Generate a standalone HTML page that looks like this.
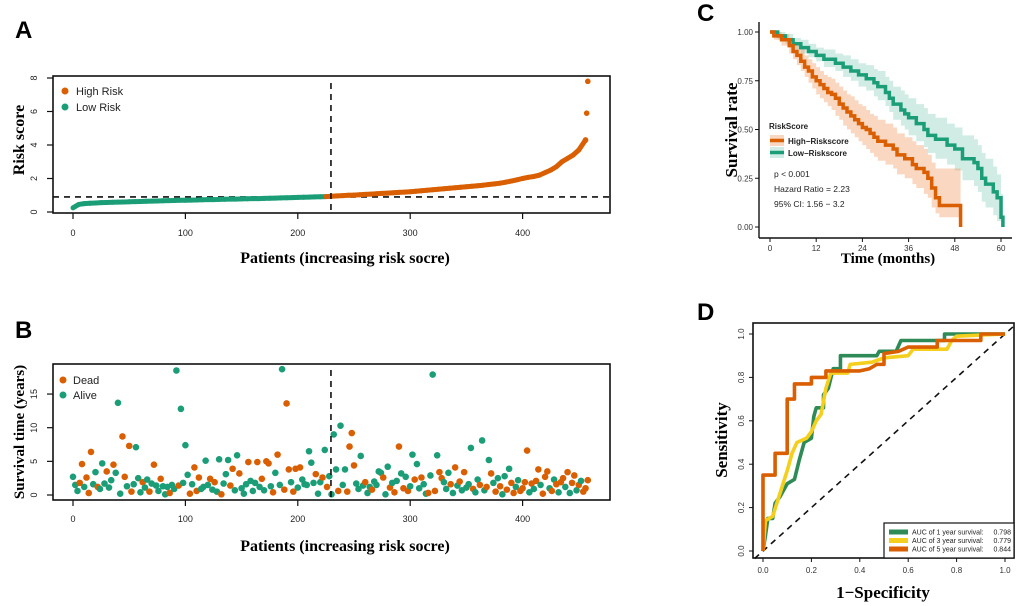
<!DOCTYPE html>
<html><head><meta charset="utf-8">
<style>
html,body{margin:0;padding:0;background:#fff;}
svg{display:block;}
text{font-family:"Liberation Sans",sans-serif;}
.ser{font-family:"Liberation Serif",serif;font-weight:bold;}
.tk{font-size:9px;fill:#222;}
</style></head>
<body>
<svg id="fig" width="1020" height="606" viewBox="0 0 1020 606" xmlns="http://www.w3.org/2000/svg">
<rect x="0" y="0" width="1020" height="606" fill="#fff"/>
<text x="15" y="38" font-size="24" font-weight="bold">A</text>
<text x="15" y="338" font-size="24" font-weight="bold">B</text>
<text x="697" y="21" font-size="24" font-weight="bold">C</text>
<text x="697" y="320" font-size="24" font-weight="bold">D</text>

<g id="pa"></g>
<g id="pb"></g>
<g id="pc"></g>
<g id="pd"></g>

<text class="ser" x="24" y="140" font-size="16" text-anchor="middle" transform="rotate(-90 24 140)">Risk score</text>
<text class="ser" x="345" y="263" font-size="16" text-anchor="middle">Patients (increasing risk socre)</text>
<text class="ser" x="24" y="432" font-size="15" text-anchor="middle" transform="rotate(-90 24 432)">Survival time (years)</text>
<text class="ser" x="345" y="551" font-size="16" text-anchor="middle">Patients (increasing risk socre)</text>
<text class="ser" x="737" y="130" font-size="17" text-anchor="middle" transform="rotate(-90 737 130)">Survival rate</text>
<text class="ser" x="888" y="263" font-size="15" text-anchor="middle">Time (months)</text>
<text class="ser" x="727" y="440" font-size="17" text-anchor="middle" transform="rotate(-90 727 440)">Sensitivity</text>
<text class="ser" x="883" y="598" font-size="17" text-anchor="middle">1−Specificity</text>
</svg>
<script>
const NS="http://www.w3.org/2000/svg";
const ORANGE="#D95F02", GREEN="#1B9E77";
// ---- Panel A data ----
const riskStep=5;
const riskScore=[0.25,0.45,0.5,0.52,0.54,0.56,0.57,0.58,0.59,0.6,0.61,0.62,0.63,0.64,0.65,0.66,0.67,0.68,0.69,0.70,0.70,0.71,0.72,0.73,0.74,0.74,0.75,0.76,0.77,0.77,0.78,0.79,0.80,0.80,0.81,0.82,0.83,0.84,0.85,0.86,0.87,0.88,0.89,0.90,0.91,0.92,0.94,0.96,0.98,1.0,1.01,1.03,1.05,1.07,1.09,1.11,1.13,1.15,1.17,1.19,1.21,1.24,1.27,1.30,1.33,1.36,1.39,1.42,1.45,1.48,1.51,1.54,1.57,1.60,1.64,1.68,1.72,1.78,1.85,1.92,2.0,2.07,2.12,2.2,2.35,2.5,2.7,3.0,3.2,3.4,3.7,4.2];
const riskTailIdx=[456,457,458];
const riskTailVal=[4.3,5.9,7.8];
const riskCutIdx=229.5, riskCutVal=0.9;
const riskXTicks=[0,100,200,300,400];
const riskYTicks=[0,2,4,6,8];
// ---- Panel B data ----
const bStep=2;
const bTime=[2.7,1.5,0.6,1.8,4.6,1.2,2.6,0.3,6.4,1.6,
3.4,1.2,0.9,4.7,1.7,3.5,1.1,2.2,4.5,3.3,
13.7,0.2,8.7,2.7,1.3,7.3,0.5,1.6,7.1,2.5,
0.4,1.9,1.1,2.3,0.5,1.7,4.5,1.4,0.6,2.4,
1.3,0.1,1.2,0.3,1.5,0.9,18.5,1.4,12.8,1.8,
7.4,3.0,0.2,1.6,4.1,0.6,2.6,0.9,1.2,5.1,
1.5,2.4,0.8,1.9,0.5,5.3,0.1,1.7,3.1,5.2,
1.4,3.9,0.7,5.9,3.2,1.0,0.2,1.6,4.9,2.1,
0.6,1.8,4.9,1.2,2.4,0.7,5.0,4.7,1.3,0.4,
3.3,6.0,1.5,18.7,0.8,13.6,3.8,1.9,0.5,3.9,
1.1,4.1,2.3,1.6,1.5,6.5,4.8,1.8,3.1,0.2,
1.9,2.6,6.7,1.2,2.8,0.1,9.0,3.8,0.6,10.3,
1.5,3.8,0.5,7.2,9.2,4.4,1.7,0.9,5.8,1.4,
1.9,0.3,1.2,0.8,2.0,1.5,3.5,3.3,2.6,0.1,
4.2,1.1,1.8,0.4,2.1,7.2,3.2,1.0,2.7,0.6,
1.3,6.0,2.3,4.6,1.0,2.6,1.6,0.2,0.3,2.9,
17.9,0.6,5.9,3.4,2.5,1.9,0.9,3.3,1.6,0.3,
4.1,1.4,2.0,0.7,3.4,1.1,1.6,7.0,0.9,0.4,
2.3,1.5,8.1,0.7,1.2,5.2,3.2,1.8,0.5,2.5,
1.3,0.1,2.8,0.8,3.9,1.8,0.3,1.2,2.2,0.6,
1.0,1.9,6.6,0.4,1.7,0.9,2.1,3.8,1.5,0.2,
2.7,3.5,1.0,0.6,2.3,1.6,0.4,1.9,2.5,1.2,
3.4,0.3,1.8,2.9,0.7,1.5,2.1,0.5,1.0,2.2];
const bDead=[0,0,0,1,1,0,1,1,1,0,
0,1,0,0,0,1,0,0,1,0,
0,0,1,1,0,1,1,0,0,0,
0,1,0,0,1,0,1,0,0,1,
0,0,0,1,0,0,0,1,0,0,
0,0,1,0,1,1,1,0,0,0,
0,1,0,1,0,0,1,0,0,0,
1,1,0,0,1,0,0,0,1,0,
0,0,1,0,1,0,1,1,0,1,
0,1,0,0,1,1,1,0,1,1,
0,1,0,0,0,0,0,0,1,0,
0,1,0,1,0,0,0,0,1,0,
0,0,1,1,1,1,0,0,0,0,
1,0,0,1,0,0,0,0,1,0,
0,1,0,1,0,1,0,1,0,1,
0,0,1,0,0,1,0,0,1,0,
0,1,0,1,1,0,0,0,1,0,
1,0,1,0,1,0,0,0,1,0,
0,1,0,0,1,0,1,0,1,0,
1,0,0,1,0,1,1,0,0,1,
1,1,1,0,1,0,1,1,0,1,
1,1,0,1,0,1,0,1,1,0,
1,0,1,1,0,1,0,1,1,1];
const bYTicks=[0,5,10,15];
// ---- Panel C data ----
const hiT=[0,1,3,5,6,7,8,9,10,11,12,13,14,15,16,17,18,19,20,21,22,23,24,25,26,27,28,30,32,33,35,37,38,40,41,42,43,44,49.5];
const hiS=[1,0.98,0.96,0.93,0.9,0.88,0.85,0.82,0.8,0.77,0.75,0.73,0.71,0.69,0.68,0.66,0.63,0.61,0.59,0.57,0.55,0.53,0.51,0.5,0.48,0.46,0.44,0.42,0.4,0.37,0.35,0.32,0.3,0.28,0.25,0.2,0.15,0.11,0];
const hiLo=[1,0.96,0.93,0.89,0.86,0.83,0.8,0.77,0.74,0.71,0.68,0.66,0.64,0.62,0.6,0.57,0.55,0.52,0.5,0.48,0.46,0.44,0.42,0.4,0.38,0.36,0.34,0.32,0.3,0.27,0.25,0.22,0.2,0.17,0.15,0.1,0.07,0.05,0.05];
const hiHi=[1,1,0.99,0.97,0.95,0.93,0.91,0.88,0.86,0.84,0.82,0.8,0.78,0.77,0.76,0.74,0.72,0.7,0.68,0.67,0.65,0.63,0.62,0.6,0.58,0.57,0.55,0.53,0.51,0.48,0.46,0.44,0.42,0.4,0.37,0.33,0.3,0.3,0.3];
const loT=[0,2,4,6,8,10,12,14,17,19,21,23,25,27,28,30,31,32,34,35,36,38,40,41,43,46,48,50,53,54,55,56,58,59,60,60.5];
const loS=[1,0.98,0.96,0.94,0.92,0.9,0.88,0.86,0.84,0.82,0.8,0.78,0.76,0.74,0.72,0.69,0.66,0.63,0.6,0.58,0.56,0.53,0.5,0.47,0.45,0.42,0.4,0.35,0.33,0.3,0.25,0.22,0.18,0.15,0.05,0];
const loLo=[1,0.96,0.94,0.91,0.89,0.87,0.85,0.82,0.8,0.77,0.75,0.72,0.7,0.67,0.65,0.62,0.59,0.55,0.52,0.5,0.47,0.44,0.41,0.38,0.35,0.32,0.29,0.24,0.21,0.18,0.13,0.1,0.06,0.03,0,0];
const loHi=[1,1,0.99,0.97,0.96,0.94,0.92,0.91,0.89,0.88,0.86,0.84,0.83,0.81,0.8,0.77,0.75,0.72,0.7,0.68,0.66,0.63,0.61,0.58,0.56,0.53,0.51,0.47,0.45,0.42,0.38,0.35,0.31,0.27,0.17,0.17];
const kmXTicks=[0,12,24,36,48,60];
const kmYTicks=[0,0.25,0.5,0.75,1];
// ---- Panel D data ----
const roc1F=[0,0.01,0.02,0.04,0.05,0.07,0.1,0.13,0.15,0.17,0.2,0.21,0.22,0.25,0.25,0.27,0.29,0.32,0.32,0.47,0.48,0.55,0.57,0.75,0.75,1];
const roc1S=[0,0.07,0.15,0.15,0.22,0.25,0.31,0.33,0.42,0.5,0.52,0.62,0.66,0.66,0.72,0.75,0.84,0.84,0.9,0.9,0.92,0.92,0.97,0.97,1,1];
const roc3F=[0,0.01,0.04,0.06,0.08,0.1,0.12,0.14,0.18,0.2,0.22,0.24,0.26,0.28,0.35,0.36,0.45,0.5,0.6,0.62,0.76,0.78,0.8,1];
const roc3S=[0,0.14,0.16,0.23,0.3,0.37,0.45,0.5,0.52,0.55,0.6,0.63,0.75,0.82,0.82,0.86,0.87,0.89,0.9,0.93,0.93,0.97,0.99,1];
const roc5F=[0,0,0.05,0.05,0.1,0.1,0.13,0.13,0.2,0.2,0.26,0.26,0.4,0.44,0.47,0.5,0.5,0.56,0.6,0.72,0.72,0.9,0.9,1];
const roc5S=[0,0.35,0.35,0.45,0.45,0.7,0.7,0.77,0.77,0.8,0.8,0.83,0.83,0.84,0.86,0.86,0.91,0.92,0.94,0.94,0.97,0.97,1,1];
const aucLabels=["AUC of 1 year survival:","AUC of 3 year survival:","AUC of 5 year survival:"];
const aucValues=["0.798","0.779","0.844"];
const rocTicks=[0,0.2,0.4,0.6,0.8,1];

function el(parent,tag,attrs,name,txt){
  const e=document.createElementNS(NS,tag);
  for(const k in attrs) e.setAttribute(k,attrs[k]);
  
  
  if(txt!==undefined) e.textContent=txt;
  parent.appendChild(e);
  return e;
}

// ===== Panel A =====
(function(){
  const g=document.getElementById('pa');
  const x=p=>73+p*1.124, y=v=>212-v*16.75;
  el(g,'line',{x1:53,y1:y(riskCutVal),x2:610,y2:y(riskCutVal),stroke:'#111','stroke-width':1.6,'stroke-dasharray':'6,5'},'cutoff-hline');
  for(let i=1;i<riskScore.length;i++){
    const p0=(i-1)*riskStep,p1=i*riskStep;
    el(g,'line',{x1:x(p0),y1:y(riskScore[i-1]),x2:x(p1),y2:y(riskScore[i]),stroke:p1<=riskCutIdx?GREEN:ORANGE,'stroke-width':5,'stroke-linecap':'round'},'risk-curve-segment');
  }
  const last=(riskScore.length-1)*riskStep;
  el(g,'line',{x1:x(last),y1:y(riskScore[riskScore.length-1]),x2:x(riskTailIdx[0]),y2:y(riskTailVal[0]),stroke:ORANGE,'stroke-width':5,'stroke-linecap':'round'},'risk-curve-segment');
  riskTailIdx.forEach((p,i)=>{el(g,'circle',{cx:x(p),cy:y(riskTailVal[i]),r:2.8,fill:ORANGE},'risk-point-high');});
  el(g,'line',{x1:x(riskCutIdx),y1:83,x2:x(riskCutIdx),y2:213,stroke:'#111','stroke-width':1.6,'stroke-dasharray':'6,5'},'cutoff-vline');
  el(g,'rect',{x:53,y:76,width:557,height:137,fill:'none',stroke:'#111','stroke-width':1.6},'plot-frame');
  riskYTicks.forEach(v=>{
    el(g,'line',{x1:47,y1:y(v),x2:53,y2:y(v),stroke:'#111','stroke-width':1.2},'y-tick');
    el(g,'text',{x:37,y:y(v),class:'tk','text-anchor':'middle',transform:`rotate(-90 37 ${y(v)})`},'y-tick-label',String(v));
  });
  riskXTicks.forEach(v=>{
    el(g,'line',{x1:x(v),y1:213,x2:x(v),y2:219,stroke:'#111','stroke-width':1.2},'x-tick');
    el(g,'text',{x:x(v),y:236,class:'tk','text-anchor':'middle'},'x-tick-label',String(v));
  });
  el(g,'circle',{cx:65,cy:91,r:3.5,fill:ORANGE},'legend-high-risk-marker');
  el(g,'text',{x:76,y:95,'font-size':11,fill:'#222'},'legend-high-risk','High Risk');
  el(g,'circle',{cx:65,cy:107,r:3.5,fill:GREEN},'legend-low-risk-marker');
  el(g,'text',{x:76,y:111,'font-size':11,fill:'#222'},'legend-low-risk','Low Risk');
})();

// ===== Panel B =====
(function(){
  const g=document.getElementById('pb');
  const x=p=>73+p*1.124, y=v=>495-v*6.73;
  bTime.forEach((t,i)=>{
    el(g,'circle',{cx:x(i*bStep),cy:y(t),r:3.3,fill:bDead[i]?ORANGE:GREEN},bDead[i]?'dead-point':'alive-point');
  });
  el(g,'line',{x1:x(riskCutIdx),y1:370,x2:x(riskCutIdx),y2:500,stroke:'#111','stroke-width':1.6,'stroke-dasharray':'6,5'},'cutoff-vline');
  el(g,'rect',{x:53,y:364,width:557,height:136,fill:'none',stroke:'#111','stroke-width':1.6},'plot-frame');
  bYTicks.forEach(v=>{
    el(g,'line',{x1:47,y1:y(v),x2:53,y2:y(v),stroke:'#111','stroke-width':1.2},'y-tick');
    el(g,'text',{x:37,y:y(v),class:'tk','text-anchor':'middle',transform:`rotate(-90 37 ${y(v)})`},'y-tick-label',String(v));
  });
  riskXTicks.forEach(v=>{
    el(g,'line',{x1:x(v),y1:500,x2:x(v),y2:506,stroke:'#111','stroke-width':1.2},'x-tick');
    el(g,'text',{x:x(v),y:522,class:'tk','text-anchor':'middle'},'x-tick-label',String(v));
  });
  el(g,'circle',{cx:63,cy:380,r:3.5,fill:ORANGE},'legend-dead-marker');
  el(g,'text',{x:73,y:384,'font-size':11,fill:'#222'},'legend-dead','Dead');
  el(g,'circle',{cx:63,cy:395,r:3.5,fill:GREEN},'legend-alive-marker');
  el(g,'text',{x:73,y:399,'font-size':11,fill:'#222'},'legend-alive','Alive');
})();

// ===== Panel C =====
(function(){
  const g=document.getElementById('pc');
  const x=t=>770+t*3.85, y=s=>227-s*195;
  function stepPts(T,S){let p=[];for(let i=0;i<T.length;i++){if(i>0)p.push([x(T[i]),y(S[i-1])]);p.push([x(T[i]),y(S[i])]);}return p;}
  function band(T,L,H){
    const up=stepPts(T,H), dn=stepPts(T,L).reverse();
    return up.concat(dn).map(p=>p.join(',')).join(' ');
  }
  el(g,'polygon',{points:band(loT,loLo,loHi),fill:'rgba(27,158,119,0.2)'},'low-risk-ci-band');
  el(g,'polygon',{points:band(hiT,hiLo,hiHi),fill:'rgba(240,150,90,0.38)'},'high-risk-ci-band');
  el(g,'polyline',{points:stepPts(loT,loS).map(p=>p.join(',')).join(' '),fill:'none',stroke:GREEN,'stroke-width':3.5},'low-risk-km-curve');
  el(g,'polyline',{points:stepPts(hiT,hiS).map(p=>p.join(',')).join(' '),fill:'none',stroke:ORANGE,'stroke-width':3.5},'high-risk-km-curve');
  el(g,'line',{x1:759,y1:22,x2:759,y2:238,stroke:'#111','stroke-width':1.4},'y-axis');
  el(g,'line',{x1:759,y1:238,x2:1012,y2:238,stroke:'#111','stroke-width':1.4},'x-axis');
  kmYTicks.forEach(v=>{
    el(g,'line',{x1:755,y1:y(v),x2:759,y2:y(v),stroke:'#111','stroke-width':1},'y-tick');
    el(g,'text',{x:753,y:y(v)+3,'font-size':8,fill:'#333','text-anchor':'end'},'y-tick-label',v.toFixed(2));
  });
  kmXTicks.forEach(v=>{
    el(g,'line',{x1:x(v),y1:238,x2:x(v),y2:242,stroke:'#111','stroke-width':1},'x-tick');
    el(g,'text',{x:x(v),y:251,'font-size':8,fill:'#333','text-anchor':'middle'},'x-tick-label',String(v));
  });
  el(g,'text',{x:769,y:129,'font-size':8,'font-weight':'bold',fill:'#222'},'legend-title','RiskScore');
  el(g,'rect',{x:770,y:135,width:14,height:11,fill:'rgba(240,150,90,0.38)'},'legend-high-swatch');
  el(g,'line',{x1:770,y1:140.5,x2:784,y2:140.5,stroke:ORANGE,'stroke-width':3.5},'legend-high-line');
  el(g,'text',{x:788,y:144,'font-size':8,'font-weight':'bold',fill:'#222'},'legend-high','High−Riskscore');
  el(g,'rect',{x:770,y:147,width:14,height:11,fill:'rgba(27,158,119,0.2)'},'legend-low-swatch');
  el(g,'line',{x1:770,y1:152.5,x2:784,y2:152.5,stroke:GREEN,'stroke-width':3.5},'legend-low-line');
  el(g,'text',{x:788,y:156,'font-size':8,'font-weight':'bold',fill:'#222'},'legend-low','Low−Riskscore');
  el(g,'text',{x:774,y:177,'font-size':8.5,fill:'#222'},'p-value','p < 0.001');
  el(g,'text',{x:774,y:192,'font-size':8.5,fill:'#222'},'hazard-ratio','Hazard Ratio = 2.23');
  el(g,'text',{x:774,y:207,'font-size':8.5,fill:'#222'},'confidence-interval','95% CI: 1.56 − 3.2');
})();

// ===== Panel D =====
(function(){
  const g=document.getElementById('pd');
  const x=f=>763+f*242, y=s=>551-s*217;
  el(g,'line',{x1:x(-0.035),y1:y(-0.035),x2:x(1.035),y2:y(1.035),stroke:'#111','stroke-width':1.6,'stroke-dasharray':'6,5'},'reference-diagonal');
  const series=[[roc1F,roc1S,'#2E8B57','roc-1-year'],[roc3F,roc3S,'#F5CF1D','roc-3-year'],[roc5F,roc5S,ORANGE,'roc-5-year']];
  series.forEach(s=>{
    el(g,'polyline',{points:s[0].map((f,i)=>x(f)+','+y(s[1][i])).join(' '),fill:'none',stroke:s[2],'stroke-width':3.6,'stroke-linejoin':'round'},s[3]);
  });
  el(g,'rect',{x:753,y:323,width:261,height:235,fill:'none',stroke:'#111','stroke-width':1.6},'plot-frame');
  rocTicks.forEach(v=>{
    el(g,'line',{x1:x(v),y1:558,x2:x(v),y2:562,stroke:'#111','stroke-width':1},'x-tick');
    el(g,'text',{x:x(v),y:573,'font-size':8,fill:'#333','text-anchor':'middle'},'x-tick-label',v.toFixed(1));
    el(g,'line',{x1:749,y1:y(v),x2:753,y2:y(v),stroke:'#111','stroke-width':1},'y-tick');
    el(g,'text',{x:744,y:y(v),'font-size':8,fill:'#333','text-anchor':'middle',transform:`rotate(-90 744 ${y(v)})`},'y-tick-label',v.toFixed(1));
  });
  el(g,'rect',{x:884,y:523,width:130,height:35,fill:'#fff',stroke:'#111','stroke-width':1.2},'legend-box');
  series.forEach((s,i)=>{
    const ly=532+i*8.5;
    el(g,'line',{x1:889,y1:ly,x2:908,y2:ly,stroke:s[2],'stroke-width':5},'legend-swatch');
    el(g,'text',{x:912,y:ly+2.5,'font-size':7,fill:'#222'},'legend-label',aucLabels[i]);
    el(g,'text',{x:1011,y:ly+2.5,'font-size':7,fill:'#222','text-anchor':'end'},'legend-value',aucValues[i]);
  });
})();
</script>
</body></html>
